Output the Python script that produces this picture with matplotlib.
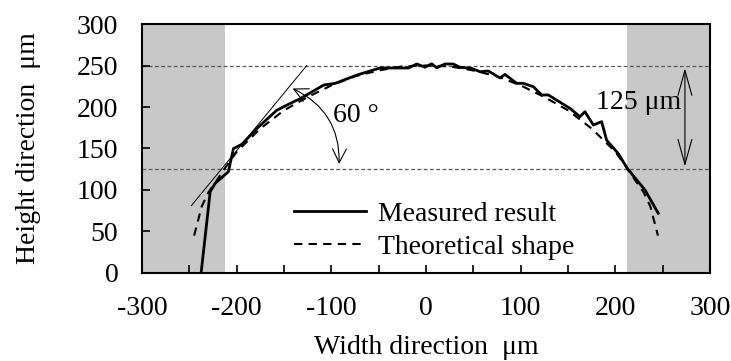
import matplotlib
matplotlib.use("Agg")
import matplotlib.pyplot as plt
from matplotlib.patches import FancyArrowPatch

plt.rcParams['font.family'] = ['Liberation Serif', 'DejaVu Serif']
plt.rcParams['axes.unicode_minus'] = False

# Measured cross-section profile (µm)
measured_x = [-237.6, -228, -222.8, -208.8, -203.4, -194.6, -178.8, -157.8, -144, -133,
              -108, -96, -73, -48.6, -18.7, -9.8, -1, 6, 11.3, 20, 28.8, 35.9, 48, 57,
              65.8, 78, 83.4, 95.8, 102.7, 113.3, 122.2, 129.2, 152, 162.6, 167.9, 176.7,
              185.5, 190.8, 203, 212.6, 231.3, 245.3]
measured_y = [0, 98, 108, 122, 150, 155, 174, 196, 204, 210,
              226.5, 228.5, 238.5, 247, 247, 251.8, 248, 252, 247.3, 251.8, 251.8, 247.8, 246.6, 242.5,
              243.4, 235, 239.3, 228.5, 228.5, 224.5, 214.5, 214.5, 198.4, 188.3, 194.3, 178.3,
              182.3, 160, 144, 126, 100, 72]

# Theoretical lens shape (µm)
theory_x = [-245, -237, -230, -222, -212, -200, -175, -150, -125, -100, -75, -50, -25, 0,
            25, 50, 75, 100, 125, 150, 175, 200, 212, 222, 230, 237, 245]
theory_y = [45, 80, 97, 110, 127, 146, 174, 196, 212, 226, 237, 244, 249, 250,
            249, 244, 237, 226, 212, 196, 174, 146, 127, 110, 97, 80, 45]

# Reference levels and shaded edge regions
top_level = 250
half_level = 125
edge_limit = 212.5

# Tangent line at the edge and the angle annotation
tangent_x = [-248, -126]
tangent_y = [81, 250]
angle_start = (-143.6, 223.7)
angle_end = (-91.9, 128)

FS = 20

fig = plt.figure(figsize=(7.31, 3.61), dpi=100)
ax = fig.add_axes([0.1943, 0.2438, 0.777, 0.6897])

ax.axvspan(-300, -edge_limit, color='#c8c8c8', lw=0, zorder=0)
ax.axvspan(edge_limit, 300, color='#c8c8c8', lw=0, zorder=0)

for lvl in (top_level, half_level):
    ax.axhline(lvl, color='#555555', lw=0.9, ls=(0, (3, 2)), zorder=1)

ax.plot(tangent_x, tangent_y, color='black', lw=0.7, zorder=2)
ax.plot(theory_x, theory_y, color='black', lw=1.5, ls=(0, (4, 3)), zorder=3,
        label='Theoretical shape')
ax.plot(measured_x, measured_y, color='black', lw=2.0, zorder=4,
        label='Measured result')

arc = FancyArrowPatch(angle_start, angle_end, connectionstyle='arc3,rad=-0.34',
                      arrowstyle='<->,head_length=0.5,head_width=0.25',
                      mutation_scale=20, color='black', lw=0.8, zorder=5)
ax.add_patch(arc)
ax.text(-98, 190, '60 °', fontsize=FS, va='center', ha='left')

vert = FancyArrowPatch((273.5, top_level), (273.5, half_level),
                       arrowstyle='<->,head_length=0.9,head_width=0.25',
                       mutation_scale=20, color='black', lw=0.8, zorder=5)
ax.add_patch(vert)
ax.text(180, 206, '125 μm', fontsize=FS, va='center', ha='left')

ax.set_xlim(-300, 300)
ax.set_ylim(0, 300)
ax.set_xticks(range(-300, 301, 100))
ax.set_xticks(range(-250, 300, 100), minor=True)
ax.set_yticks(range(0, 301, 50))
ax.tick_params(axis='both', which='both', direction='in', labelsize=FS, width=1.2,
               top=False, right=False)
ax.tick_params(axis='x', which='both', length=6, pad=16.5)
ax.tick_params(axis='y', length=6, pad=17)
for sp in ax.spines.values():
    sp.set_linewidth(1.5)
    sp.set_color('black')

ax.set_xlabel('Width direction  μm', fontsize=FS, labelpad=10)
ax.set_ylabel('Height direction  μm', fontsize=FS, labelpad=26)

handles, labels = ax.get_legend_handles_labels()
ax.legend(handles[::-1], labels[::-1], loc='center left', bbox_to_anchor=(0.268, 0.17),
          frameon=False, fontsize=FS, handlelength=2.6, handletextpad=0.4,
          labelspacing=0.25, borderpad=0, borderaxespad=0)

fig.savefig('out.png', dpi=100)
